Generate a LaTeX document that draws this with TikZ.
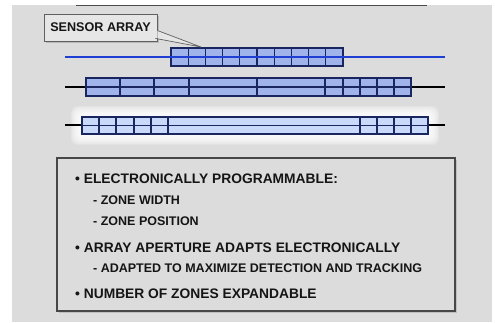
\documentclass[tikz,border=0pt]{standalone}
\usepackage{fontspec}
\setmainfont{Liberation Sans}
\usetikzlibrary{calc}
\definecolor{bg}{HTML}{DCDCDC}
\definecolor{cellA}{HTML}{A0B3EA}
\definecolor{cellB}{HTML}{C9D9FA}
\definecolor{navy}{HTML}{1A2660}
\definecolor{blueline}{HTML}{1E3ED4}
\definecolor{callfill}{HTML}{E6E6E6}
\definecolor{txt}{HTML}{151515}
\begin{document}
\begin{tikzpicture}[x=1pt,y=-1pt,
  cellbox/.style={draw=navy, line width=1.3pt},
  mainitem/.style={anchor=base west, inner sep=0pt, text=txt, font=\fontsize{13.8}{16}\selectfont\bfseries},
  subitem/.style={anchor=base west, inner sep=0pt, text=txt, font=\fontsize{12.5}{15}\selectfont\bfseries},
  callbox/.style={draw=gray!75!black, fill=callfill, line width=0.8pt, minimum width=113pt, minimum height=27pt, inner sep=0pt, text=txt, font=\fontsize{12.6}{15}\selectfont\bfseries},
  textbox/.style={draw=black!72, fill=bg, line width=1.2pt, minimum width=398pt, minimum height=153pt, inner sep=0pt}
]
\useasboundingbox (0,0) rectangle (495,322);
\fill[bg] (12,5) rectangle (492,322);
\draw[black!70, line width=1pt] (76,5) -- (427,5);

% ---- row 1
\coordinate (r1l) at (65,57);
\coordinate (r1r) at (445,57);
\foreach \i in {0,...,9}
  \draw[cellbox, fill=cellA] ({171+17.2*\i},48) rectangle ({171+17.2*(\i+1)},66);
\draw[blueline, line width=1.8pt] (r1l) -- (r1r);

% ---- row 2
\coordinate (r2l) at (65,87);
\coordinate (r2r) at (445,87);
\draw[black, line width=1.2pt] (r2l) -- (r2r);
\foreach \a/\b in {86/120,120/154,154/189,189/257,257/325,325/343,343/360,360/377,377/394,394/411}
  \draw[cellbox, fill=cellA] (\a,78) rectangle (\b,96);
\draw[navy, line width=1.3pt] (86,87) -- (411,87);

% ---- row 3 glow
\foreach \k in {1,...,11}
  \fill[white, opacity=0.2, rounded corners=7pt] ({82-\k},{117-\k}) rectangle ({428+\k},{134+\k});
\coordinate (r3l) at (65,125);
\coordinate (r3r) at (445,125);
\draw[black, line width=1.2pt] (r3l) -- (r3r);
\foreach \a/\b in {82/99,99/116,116/134,134/151,151/168,168/360,360/377,377/394,394/411,411/428}
  \draw[cellbox, fill=cellB] (\a,117) rectangle (\b,134);
\draw[navy, line width=1.3pt] (82,125.5) -- (428,125.5);

% ---- callout
\fill[gray!55] (46,16) rectangle (159,43);
\node[callbox] (sa) at (100.5,27.5) {SENSOR ARRAY};
\coordinate (tip) at (201,47);
\fill[callfill] ($(sa.east)+(0,3)$) -- (tip) -- ($(sa.south east)+(0,-3)$) -- cycle;
\draw[gray!75!black, line width=0.7pt] ($(sa.east)+(0,3)$) -- (tip) -- ($(sa.south east)+(-2,-3)$);

% ---- text box
\fill[gray!50] (58.5,159.5) rectangle (456.5,312.5);
\node[textbox] (tb) at (256,234.5) {};
\node[mainitem] (t1) at (75,183) {• ELECTRONICALLY PROGRAMMABLE:};
\node[subitem] (t2) at (93,204.5) {- ZONE WIDTH};
\node[subitem] (t3) at (93,225.5) {- ZONE POSITION};
\node[mainitem] (t4) at (75,252) {• ARRAY APERTURE ADAPTS ELECTRONICALLY};
\node[subitem] (t5) at (93,272.5) {- ADAPTED TO MAXIMIZE DETECTION AND TRACKING};
\node[mainitem] (t6) at (75,298) {• NUMBER OF ZONES EXPANDABLE};
\end{tikzpicture}
\end{document}
